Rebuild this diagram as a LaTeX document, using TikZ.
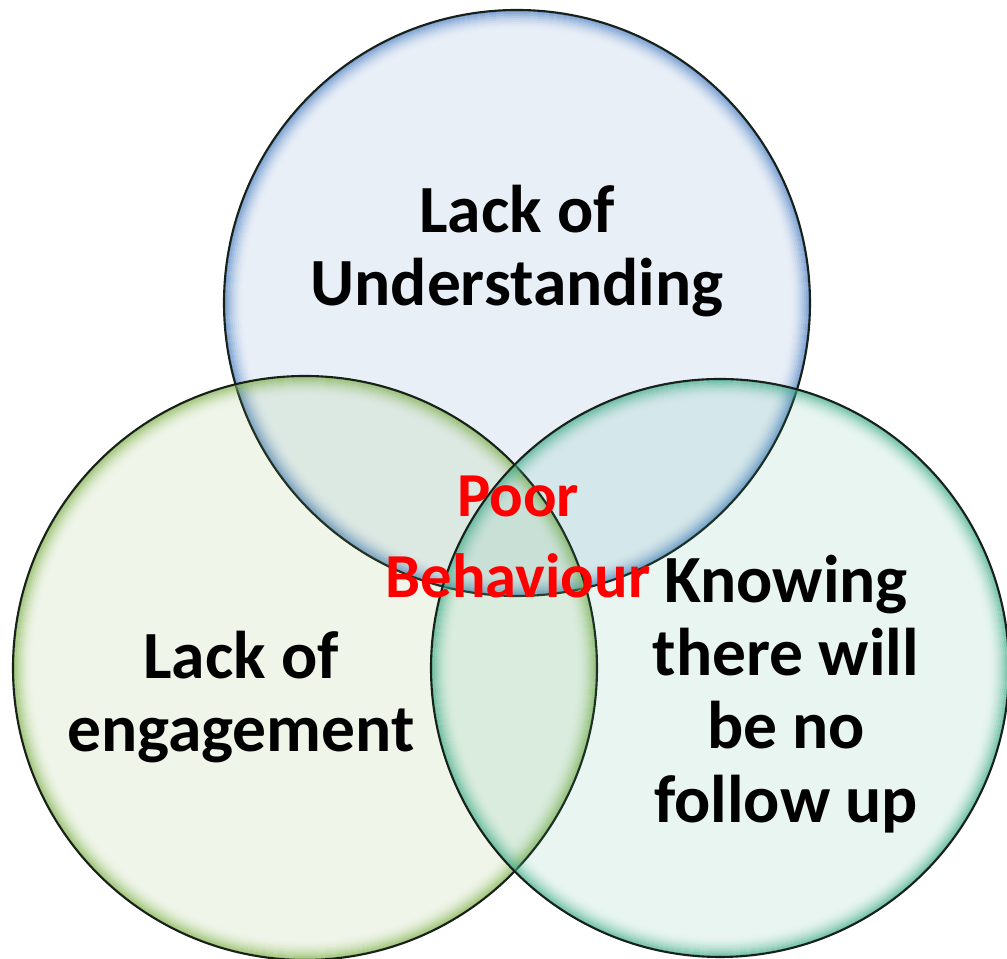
\documentclass[tikz,border=0pt]{standalone}
\usepackage{fontspec}
\setmainfont{Carlito}

\definecolor{understandblue}{HTML}{4A7EC0}
\definecolor{engagegreen}{HTML}{7EAF4A}
\definecolor{followteal}{HTML}{3FAA88}
\definecolor{rimline}{HTML}{18201A}
\definecolor{behaviourred}{HTML}{FF0000}

\tikzset{
  venn label/.style={font=\bfseries\fontsize{19.2}{20.8}\selectfont, align=center, inner sep=0pt},
  cause label/.style={venn label, font=\bfseries\fontsize{17.8}{23.3}\selectfont, text=behaviourred}
}

\begin{document}
\begin{tikzpicture}

\def \glow {10} % rings in the soft inner edge
\def \ringw {0.02} % width of one ring, in cm

\useasboundingbox (0,0) rectangle (10.07,9.59);

% circles: centre x / centre y / radius / colour
\foreach \cx/\cy/\r/\col in {5.17/6.56/2.93/understandblue, 3.05/2.91/2.92/engagegreen, 7.20/2.91/2.89/followteal}
{
  \fill[\col, fill opacity=0.12] (\cx,\cy) circle (\r);
  \foreach \k [evaluate=\k as \op using {0.85*(1-\k/(\glow+1))^2}] in {1,...,\glow}
    \draw[\col, line width=\ringw cm, draw opacity=\op] (\cx,\cy) circle ({\r-(\k-0.5)*\ringw});
  \draw[rimline, line width=0.6pt] (\cx,\cy) circle (\r);
}

\node[venn label] (understanding) at (5.17,7.08) {Lack of\\Understanding};
\node[venn label] (engagement) at (2.41,2.62) {Lack of\\engagement};
\node[venn label] (followup) at (7.86,2.65) {Knowing\\there will\\be no\\follow up};
\node[cause label] (behaviour) at (5.18,4.22) {Poor\\Behaviour};

\end{tikzpicture}
\end{document}
